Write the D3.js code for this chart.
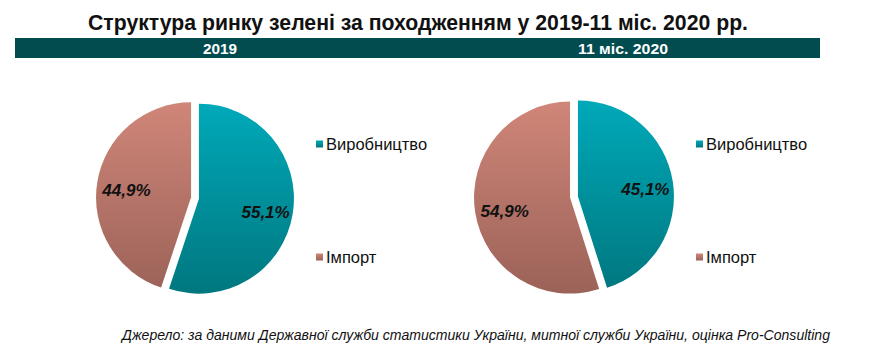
<!DOCTYPE html>
<html><head><meta charset="utf-8">
<script src="https://cdn.jsdelivr.net/npm/d3@7"></script>
<style>
html,body{margin:0;padding:0;background:#fff;}
svg{display:block;font-family:"Liberation Sans",Arial,sans-serif;}
</style></head>
<body><svg id="c" width="878" height="355"></svg>
<script>
const title = "Структура ринку зелені за походженням у 2019-11 міс. 2020 рр.";
const periods = ["2019", "11 міс. 2020"];
const categories = ["Виробництво", "Імпорт"];
const values2019 = [55.1, 44.9];
const values2020 = [45.1, 54.9];
const source = "Джерело: за даними Державної служби статистики України, митної служби України, оцінка Pro-Consulting";

const svg = d3.select("#c");
const defs = svg.append("defs");
const gradStops = [["#00a9b9","#00777f"],["#d08679","#9b6258"]];

function fitText(sel, w){ sel.attr("textLength", w).attr("lengthAdjust","spacingAndGlyphs"); }

// title
svg.append("text").attr("x", 418).attr("y", 30).attr("text-anchor","middle")
  .style("font-family","'Liberation Sans Narrow','Liberation Sans',Arial")
  .attr("font-size", 22).attr("font-weight","bold").attr("fill","#111")
  .text(title).call(fitText, 660);

// banner
svg.append("rect").attr("x",15).attr("y",38).attr("width",805).attr("height",20).attr("fill","#024c50");
svg.selectAll(".plab").data(periods).enter().append("text")
  .attr("x", (d,i)=> i===0 ? 220 : 623).attr("y", 54).attr("text-anchor","middle")
  .attr("font-size",15.5).attr("font-weight","bold").attr("fill","#fff")
  .text(d=>d).each(function(d,i){ d3.select(this).call(fitText, i===0?34:90); });

const pies = [
  {vals: values2019, cx: 195, cy: 198, r: 95, legX: 313},
  {vals: values2020, cx: 574, cy: 197, r: 96, legX: 693}
];
const pie = d3.pie().sort(null).value(d=>d);
const off = 4;

pies.forEach((p, pi) => {
  const g = svg.append("g").attr("transform", `translate(${p.cx},${p.cy})`);
  categories.forEach((c, ci) => {
    const gr = defs.append("linearGradient").attr("id", `g${pi}${ci}`)
      .attr("gradientUnits","userSpaceOnUse").attr("x1",0).attr("y1",-p.r).attr("x2",0).attr("y2",p.r);
    gr.append("stop").attr("offset","0%").attr("stop-color", gradStops[ci][0]);
    gr.append("stop").attr("offset","100%").attr("stop-color", gradStops[ci][1]);
  });
  const arc = d3.arc().innerRadius(0).outerRadius(p.r);
  const labArc = d3.arc().innerRadius(p.r*0.7).outerRadius(p.r*0.7);
  const arcs = pie(p.vals);
  arcs.forEach((a, i) => {
    const mid = (a.startAngle + a.endAngle)/2;
    const dx = Math.sin(mid)*off, dy = -Math.cos(mid)*off;
    const sg = g.append("g").attr("transform", `translate(${dx},${dy})`);
    sg.append("path").attr("d", arc(a)).attr("fill", `url(#g${pi}${i})`);
    const [lx, ly] = labArc.centroid(a);
    sg.append("text").attr("x", lx + 1).attr("y", ly + 3).attr("dy","0.35em").attr("text-anchor","middle")
      .attr("font-size",17).attr("font-weight","bold").attr("font-style","italic").attr("fill","#111")
      .text(d3.format(".1f")(p.vals[i]).replace(".", ",") + "%");
  });
  // legend
  const ly = d3.scalePoint().domain(categories).range([144, 257]);
  categories.forEach((c, ci) => {
    svg.append("rect").attr("x", p.legX+3).attr("y", ly(c)-3.5).attr("width",7).attr("height",7)
      .attr("fill", `url(#lg${ci})`);
    svg.append("text").attr("x", p.legX+13).attr("y", ly(c)).attr("dy","0.36em")
      .attr("font-size",16.5).attr("fill","#111").text(c);
  });
});
categories.forEach((c, ci) => {
  const gr = defs.append("linearGradient").attr("id", `lg${ci}`).attr("x1",0).attr("y1",0).attr("x2",0).attr("y2",1);
  gr.append("stop").attr("offset","0%").attr("stop-color", gradStops[ci][0]);
  gr.append("stop").attr("offset","100%").attr("stop-color", gradStops[ci][1]);
});

// source
svg.append("text").attr("x", 122).attr("y", 340)
  .style("font-family","'Liberation Sans Narrow','Liberation Sans',Arial")
  .attr("font-size",14).attr("font-style","italic").attr("fill","#111")
  .text(source).call(fitText, 708);
</script></body></html>
